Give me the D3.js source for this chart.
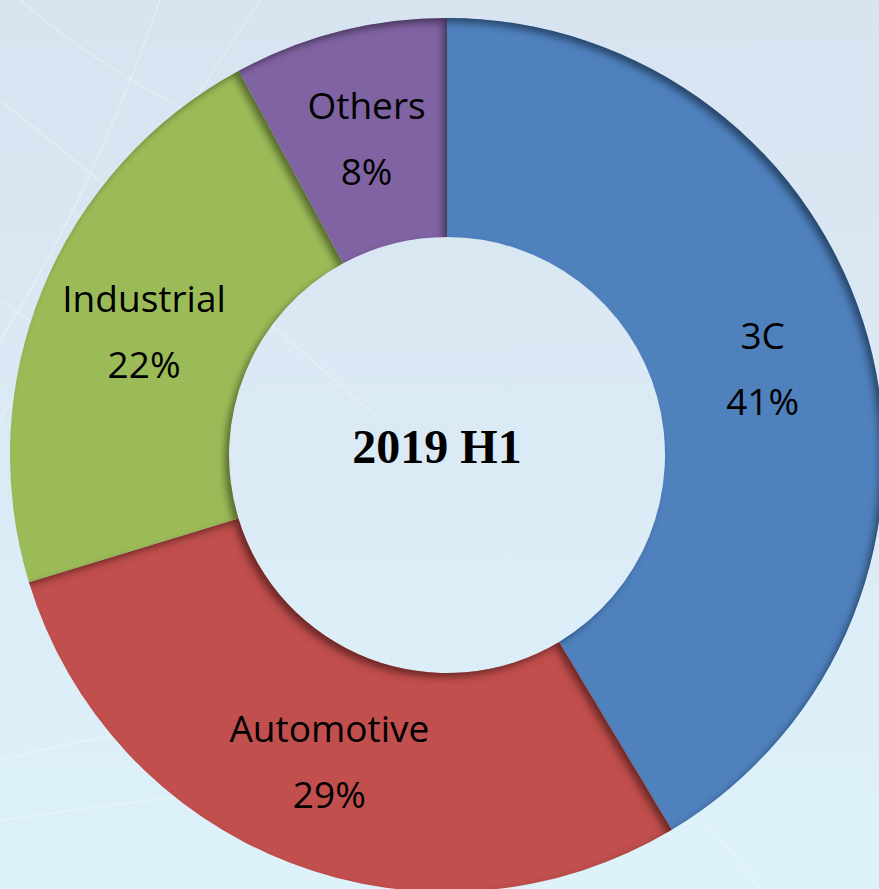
<!DOCTYPE html>
<html>
<head>
<meta charset="utf-8">
<script src="https://cdn.jsdelivr.net/npm/d3@7/dist/d3.min.js"></script>
<style>
html,body{margin:0;padding:0;overflow:hidden;}
svg{display:block;}
</style>
</head>
<body>
<svg id="chart" width="879" height="889"></svg>
<script>
const categories = ["3C", "Automotive", "Industrial", "Others"];
const values = [41.4, 28.9, 21.8, 7.9];
const colors = ["#4f81bd", "#c0504d", "#9bbb59", "#8064a2"];
const centerTitle = "2019 H1";

const W = 879, H = 889;
const cx = 447, cy = 455, rOuter = 437, rInner = 218;

const svg = d3.select("#chart");
const defs = svg.append("defs");

const bg = defs.append("linearGradient").attr("id","bg").attr("x1",0).attr("y1",0).attr("x2",0).attr("y2",1);
bg.append("stop").attr("offset","0%").attr("stop-color","#d8e3f0");
bg.append("stop").attr("offset","100%").attr("stop-color","#ddf2fb");

const f = defs.append("filter").attr("id","inner").attr("x","-10%").attr("y","-10%").attr("width","120%").attr("height","120%");
f.append("feFlood").attr("flood-color","#000").attr("flood-opacity",0.7).attr("result","flood");
f.append("feComposite").attr("in","flood").attr("in2","SourceAlpha").attr("operator","out").attr("result","inv");
f.append("feOffset").attr("in","inv").attr("dx",-5).attr("dy",5).attr("result","off");
f.append("feGaussianBlur").attr("in","off").attr("stdDeviation",3.5).attr("result","blur");
f.append("feComposite").attr("in","blur").attr("in2","SourceAlpha").attr("operator","in").attr("result","shadow");
const m = f.append("feMerge");
m.append("feMergeNode").attr("in","SourceGraphic");
m.append("feMergeNode").attr("in","shadow");

svg.append("rect").attr("width",W).attr("height",H).attr("fill","url(#bg)");

// faint background texture lines
const tex = svg.append("g").attr("fill","none").attr("stroke","#ffffff").attr("stroke-opacity",0.3).attr("stroke-width",1.5);
tex.append("path").attr("d","M 20 0 Q 180 140 520 240");
tex.append("path").attr("d","M 0 100 Q 200 260 380 420");
tex.append("path").attr("d","M 160 0 Q 90 200 0 340");
tex.append("path").attr("d","M 260 0 Q 140 180 0 420");
tex.append("path").attr("d","M 0 300 Q 120 380 200 470");
tex.append("path").attr("d","M 0 760 Q 240 700 520 690");
tex.append("path").attr("d","M 0 820 Q 300 780 640 740");
tex.append("path").attr("d","M 760 889 Q 700 800 560 700");

const g = svg.append("g").attr("transform",`translate(${cx},${cy})`);

const pie = d3.pie().sort(null).value(d => d.value);
const arc = d3.arc().innerRadius(rInner).outerRadius(rOuter);
const data = categories.map((c,i) => ({name:c, value:values[i], color:colors[i]}));
const arcs = pie(data);

g.selectAll("path.slice").data(arcs).join("path")
  .attr("class","slice")
  .attr("d", arc)
  .attr("fill", d => d.data.color)
  .attr("filter","url(#inner)");

const labels = g.selectAll("g.lbl").data(arcs).join("g")
  .attr("class","lbl")
  .attr("transform", d => `translate(${arc.centroid(d)})`);
labels.append("text")
  .attr("y",-33).attr("text-anchor","middle").attr("dominant-baseline","central")
  .style("font-family","'Open Sans', 'Noto Sans', sans-serif").style("font-size","37px").attr("fill","#000")
  .text(d => d.data.name);
labels.append("text")
  .attr("y",33).attr("text-anchor","middle").attr("dominant-baseline","central")
  .style("font-family","'Open Sans', 'Noto Sans', sans-serif").style("font-size","37px").attr("fill","#000")
  .text(d => Math.round(d.data.value) + "%");

g.append("text")
  .attr("x",-10).attr("y",-9).attr("text-anchor","middle").attr("dominant-baseline","central")
  .style("font-family","'Liberation Serif', 'Times New Roman', serif").style("font-weight","bold").style("font-size","48px")
  .attr("fill","#000").text(centerTitle);
</script>
</body>
</html>
